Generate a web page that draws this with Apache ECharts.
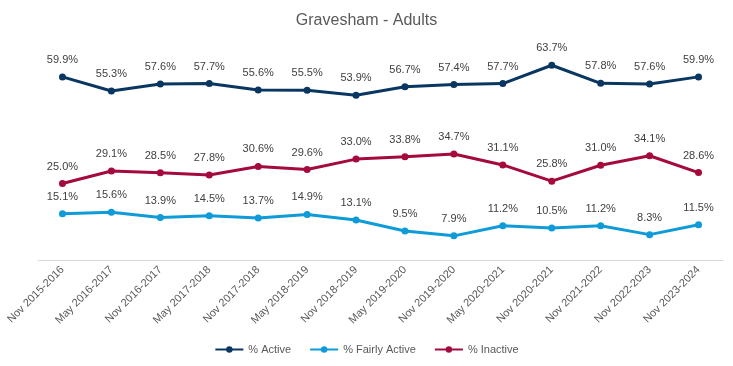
<!DOCTYPE html>
<html><head><meta charset="utf-8">
<script src="https://cdn.jsdelivr.net/npm/echarts@6/dist/echarts.min.js"></script>
<style>html,body{margin:0;padding:0;background:#fff}#c{width:733px;height:366px}</style>
</head><body><div id="c"></div>
<script>
const categories = ["Nov 2015-2016","May 2016-2017","Nov 2016-2017","May 2017-2018","Nov 2017-2018","May 2018-2019","Nov 2018-2019","May 2019-2020","Nov 2019-2020","May 2020-2021","Nov 2020-2021","Nov 2021-2022","Nov 2022-2023","Nov 2023-2024"];
const active = [59.9,55.3,57.6,57.7,55.6,55.5,53.9,56.7,57.4,57.7,63.7,57.8,57.6,59.9];
const fairlyActive = [15.1,15.6,13.9,14.5,13.7,14.9,13.1,9.5,7.9,11.2,10.5,11.2,8.3,11.5];
const inactive = [25.0,29.1,28.5,27.8,30.6,29.6,33.0,33.8,34.7,31.1,25.8,31.0,34.1,28.6];

const font = "'Liberation Sans', 'DejaVu Sans', sans-serif";
function mk(name, data, color) {
  return {
    name, type: 'line', data,
    symbol: 'circle', symbolSize: 7,
    lineStyle: { width: 3, color },
    itemStyle: { color },
    label: { show: true, position: 'top', distance: 8, formatter: p => p.value.toFixed(1) + '%', color: '#404040', fontSize: 11, fontFamily: font },
    animation: false
  };
}
const chart = echarts.init(document.getElementById('c'));
chart.setOption({
  animation: false,
  title: { text: 'Gravesham - Adults', left: 'center', top: 8, textStyle: { fontSize: 16, fontWeight: 'normal', color: '#595959', fontFamily: font } },
  grid: { left: 38, right: 10, top: 46, bottom: 106 },
  legend: {
    bottom: 6, left: 'center', itemWidth: 28, itemHeight: 8, itemGap: 18,
    textStyle: { fontSize: 11, color: '#595959', fontFamily: font },
    data: ['% Active', '% Fairly Active', '% Inactive']
  },
  xAxis: {
    type: 'category', data: categories, boundaryGap: true,
    axisLine: { lineStyle: { color: '#d9d9d9' } },
    axisTick: { show: false },
    axisLabel: { rotate: 45, color: '#595959', fontSize: 11, fontFamily: font, interval: 0, margin: 8 }
  },
  yAxis: { type: 'value', min: 0, max: 70, show: false, splitLine: { show: false } },
  series: [
    mk('% Active', active, '#0a3761'),
    mk('% Fairly Active', fairlyActive, '#0e9bd8'),
    mk('% Inactive', inactive, '#a50a3c')
  ]
});
</script></body></html>
